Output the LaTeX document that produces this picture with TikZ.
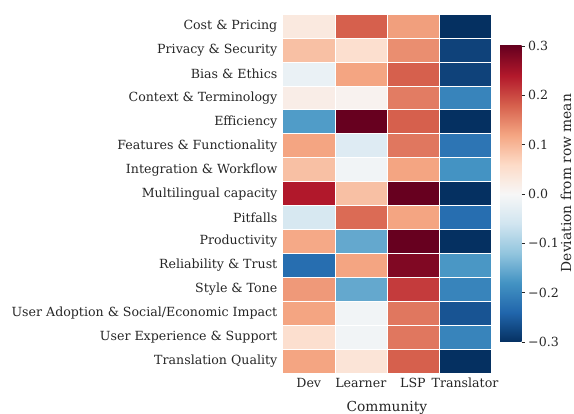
\documentclass[tikz,border=0pt]{standalone}
\usepackage{fontspec}
\setmainfont{DejaVu Serif}
\definecolor{rb0}{RGB}{5,48,97}
\definecolor{rb1}{RGB}{33,102,172}
\definecolor{rb2}{RGB}{67,147,195}
\definecolor{rb3}{RGB}{146,197,222}
\definecolor{rb4}{RGB}{209,229,240}
\definecolor{rb5}{RGB}{247,247,247}
\definecolor{rb6}{RGB}{253,219,199}
\definecolor{rb7}{RGB}{244,165,130}
\definecolor{rb8}{RGB}{214,96,77}
\definecolor{rb9}{RGB}{178,24,43}
\definecolor{rb10}{RGB}{103,0,31}
\definecolor{txt}{RGB}{38,38,38}
\pgfdeclareverticalshading{rdbu}{100bp}{color(0bp)=(rb0); color(25bp)=(rb0); color(30bp)=(rb1); color(35bp)=(rb2); color(40bp)=(rb3); color(45bp)=(rb4); color(50bp)=(rb5); color(55bp)=(rb6); color(60bp)=(rb7); color(65bp)=(rb8); color(70bp)=(rb9); color(75bp)=(rb10); color(100bp)=(rb10)}
\newcommand\hcell[3]{%
  \pgfmathsetmacro\vv{max(0,min(10,(#3+0.3)/0.06))}%
  \pgfmathtruncatemacro\ii{min(floor(\vv),9)}%
  \pgfmathtruncatemacro\jj{\ii+1}%
  \pgfmathtruncatemacro\ff{100*(1-(\vv-\ii))}%
  \colorlet{cellc}{rb\ii!\ff!rb\jj}%
  \pgfmathsetmacro\xa{282.7+52.1*(#1-1)}%
  \pgfmathsetmacro\ya{14+23.95*(#2-1)}%
  \fill[cellc,draw=white,line width=0.6pt] (\xa,\ya) rectangle ++(52.1,23.95);%
}
\begin{document}
\begin{tikzpicture}[x=1pt,y=-1pt,
  lab/.style={text=txt,font=\fontsize{12.6}{14}\selectfont,inner sep=0pt},
  big/.style={text=txt,font=\fontsize{13.8}{16}\selectfont,inner sep=0pt},
  rowlab/.style={lab,anchor=east},
  collab/.style={lab,anchor=base},
  cblab/.style={lab,anchor=west}]
\useasboundingbox (0,0) rectangle (574,414);
% cells: col,row,value
\foreach \r/\a/\b/\c/\d in {
 1/0.03/0.18/0.125/-0.3,
 2/0.09/0.05/0.14/-0.28,
 3/-0.02/0.12/0.18/-0.28,
 4/0.02/0.01/0.155/-0.2,
 5/-0.17/0.3/0.18/-0.3,
 6/0.12/-0.04/0.16/-0.22,
 7/0.09/-0.01/0.12/-0.18,
 8/0.24/0.09/0.3/-0.3,
 9/-0.05/0.17/0.12/-0.23,
 10/0.115/-0.155/0.3/-0.3,
 11/-0.23/0.12/0.28/-0.175,
 12/0.13/-0.155/0.21/-0.2,
 13/0.12/-0.01/0.16/-0.26,
 14/0.05/-0.01/0.16/-0.2,
 15/0.12/0.04/0.18/-0.3}{
 \hcell{1}{\r}{\a}\hcell{2}{\r}{\b}\hcell{3}{\r}{\c}\hcell{4}{\r}{\d}
}
% row labels
\foreach \t [count=\i] in {Cost \& Pricing,Privacy \& Security,Bias \& Ethics,Context \& Terminology,Efficiency,Features \& Functionality,Integration \& Workflow,Multilingual capacity,Pitfalls,Productivity,Reliability \& Trust,Style \& Tone,User Adoption \& Social/Economic Impact,User Experience \& Support,Translation Quality}{
 \node[rowlab] (r\i) at (277.5,{14+23.95*(\i-0.5)}) {\t};
}
% column labels
\foreach \t [count=\i] in {Dev,Learner,LSP,Translator}{
 \node[collab] (c\i) at ({282.7+52.1*(\i-0.5)},387.3) {\t};
}
\node[big,anchor=base] (xl) at (386.9,411.5) {Community};
% colorbar
\shade[shading=rdbu] (500,342) rectangle (521.5,46);
\foreach \v/\t [count=\i] in {0.3/0.3,0.2/0.2,0.1/0.1,0.0/0.0,-0.1/{−0.1},-0.2/{−0.2},-0.3/{−0.3}}{
 \draw[txt,line width=0.6pt] (521.5,{194-\v*493.3}) -- ++(3.5,0);
 \node[cblab] (t\i) at (528,{194-\v*493.3}) {\t};
}
\node[big,rotate=90,anchor=center] (cbl) at (566,183) {Deviation from row mean};
\end{tikzpicture}
\end{document}
